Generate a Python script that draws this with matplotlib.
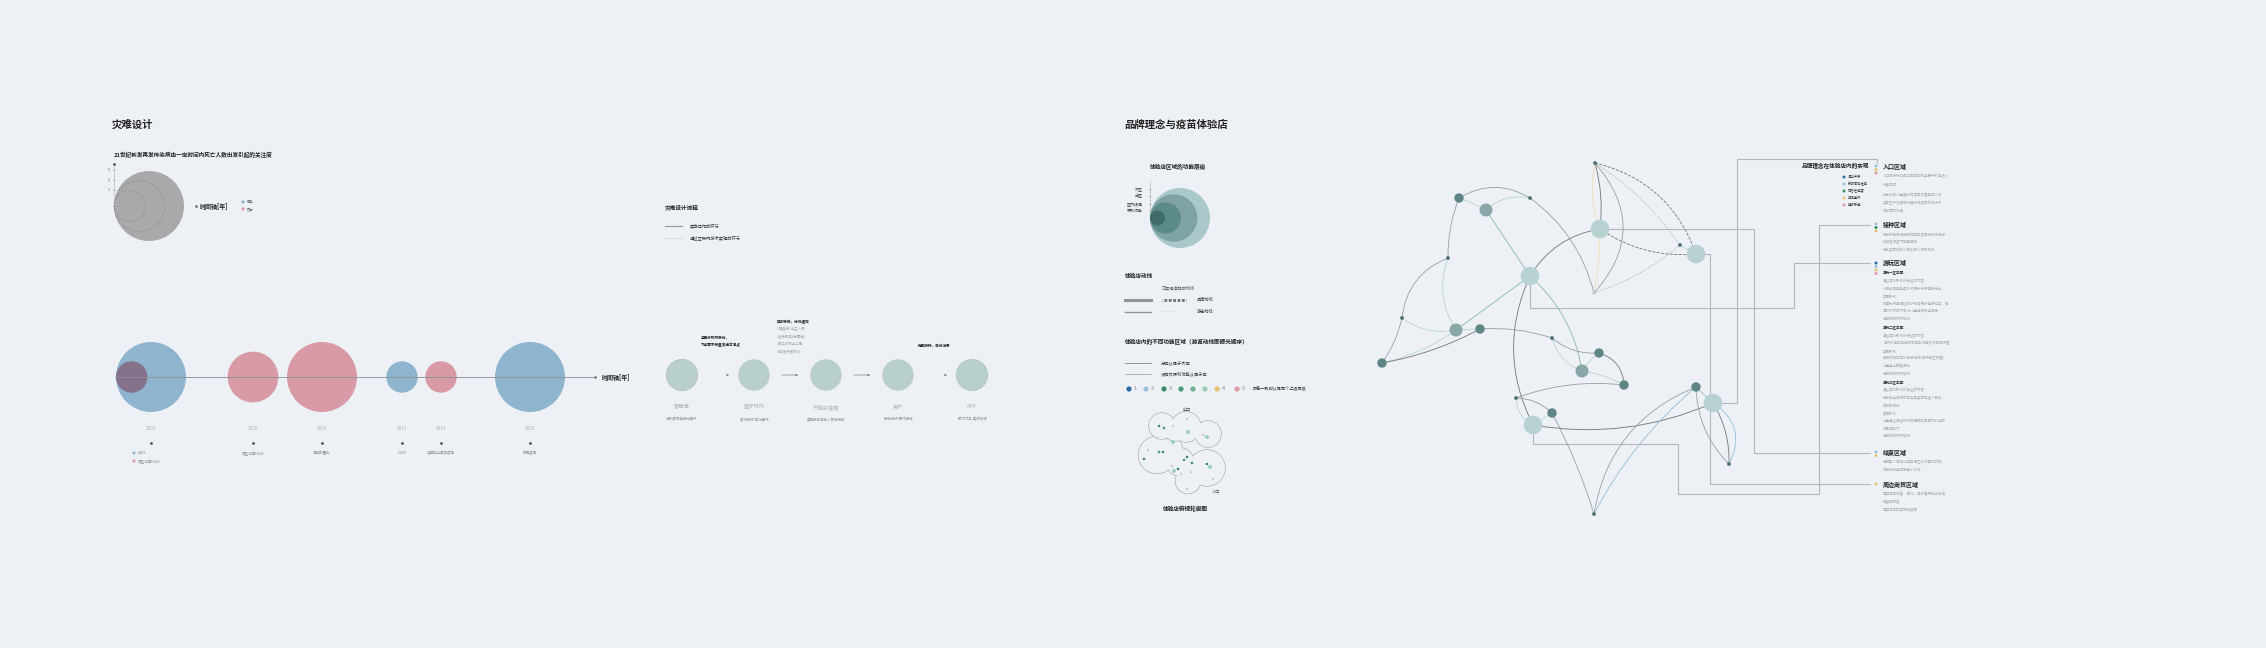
import matplotlib
matplotlib.use("Agg")
import matplotlib.pyplot as plt
from matplotlib.patches import Circle, PathPatch
from matplotlib.path import Path

plt.rcParams['font.family'] = ['Noto Sans CJK SC', 'DejaVu Sans']

BG = '#edf1f6'
BLUE = '#8fb5ce'
PINK = '#d89aa4'
DARK = '#3a3a3a'
GREY_T = '#a7abb0'

# ---- data: left timeline ----
years = ['2003', '2009', '2010', '2013', '2014', '2020']
events = ['', '甲型流感H1N1', '海地的霍乱', 'H7N9', '埃博拉出血热疫情', '新冠疫情']
levels = [3, 2, 3, 1, 1, 3]          # attention level 1..3
kinds = ['infect', 'death', 'death', 'infect', 'death', 'infect']
year_x = [151, 253, 322, 402, 441, 530]
h5n1_level = 1

# ---- data: flow ----
flow_names = ['智能库', '医疗机构', '户籍投递箱', '用户', 'APP']
flow_subs = ['大数据筛选接种用户', '实时接收 应对事件', '实现接种同城人员家接触', '接种接收 预约接种', '预约功能 实时反馈']
flow_links = ['dot', 'solid', 'solid', 'dot']
flow_online = [True, False, False, False, True]

# ---- data: function levels ----
func_levels = ['大区', '分区', '区内设施', '便利功能']
func_colors = ['#aac8ca', '#7fa3a4', '#5c8a89', '#3f6b6c']

# ---- data: network ----
nodes = {
    'A': (1595, 163, 'S'), 'B': (1459, 198, 'M'), 'C': (1486, 210, 'G'),
    'D': (1530, 198, 'S'), 'E': (1600, 229, 'L'), 'F': (1448, 258, 'S'),
    'G': (1680, 245, 'S'), 'H': (1696, 254, 'L'), 'I': (1530, 276, 'L'),
    'J': (1594, 293, 'T'), 'K': (1402, 318, 'S'), 'L': (1456, 330, 'G'),
    'M': (1480, 329, 'M'), 'N': (1552, 338, 'S'), 'O': (1599, 353, 'M'),
    'P': (1382, 363, 'M'), 'Q': (1582, 371, 'G'), 'R': (1624, 385, 'M'),
    'S': (1696, 387, 'M'), 'T': (1713, 403, 'L'), 'U': (1516, 398, 'S'),
    'V': (1552, 413, 'M'), 'W': (1533, 425, 'L'), 'X': (1729, 464, 'S'),
    'Y': (1594, 514, 'S'),
}
gr, dg, lg, gn, lb, yl = '#979ea1', '#6f7577', '#b5d6cc', '#86b8aa', '#93bcd8', '#efdfb4'
edges = [
    ('B', 'D', 0.3, gr, '-'), ('B', 'C', 0.05, lg, '-'), ('C', 'D', 0.25, lg, '-'),
    ('B', 'F', -0.1, gr, '-'), ('D', 'J', 0.18, gr, '-'), ('C', 'I', 0.0, gn, '-'),
    ('F', 'K', -0.3, gr, '-'), ('F', 'L', -0.25, lg, '-'), ('K', 'P', 0.1, gr, '-'),
    ('K', 'L', -0.22, lg, '-'), ('L', 'P', 0.1, lg, '-'), ('M', 'P', 0.08, dg, '-'),
    ('L', 'I', 0.0, gn, '-'), ('L', 'M', 0.0, lg, '-'), ('I', 'E', 0.23, dg, '-'),
    ('I', 'W', -0.24, dg, '-'), ('I', 'Q', 0.18, gn, '-'), ('M', 'N', 0.1, gr, '-'),
    ('N', 'O', -0.2, gr, '-'), ('N', 'Q', -0.25, lg, '-'), ('Q', 'O', 0.1, lg, '-'),
    ('Q', 'R', 0.1, lg, '-'), ('O', 'R', 0.35, dg, '-'), ('A', 'E', 0.1, dg, '-'),
    ('A', 'E', -0.15, yl, '-'), ('E', 'J', 0.05, yl, '-'), ('A', 'J', 0.44, gr, '-'),
    ('A', 'H', 0.27, dg, '--'), ('A', 'G', 0.1, gr, ':'), ('E', 'H', -0.18, dg, '--'),
    ('J', 'G', -0.1, gr, ':'), ('G', 'H', 0.0, lg, '-'), ('U', 'R', 0.12, gr, '-'),
    ('U', 'V', 0.2, gr, '-'), ('U', 'W', -0.3, lg, '-'), ('V', 'W', 0.0, lg, '-'),
    ('V', 'Y', 0.05, gr, '-'), ('W', 'T', -0.15, dg, '-'), ('S', 'Y', -0.28, gr, '-'),
    ('S', 'Y', -0.1, lb, '-'), ('T', 'X', 0.15, dg, '-'), ('S', 'X', -0.2, gr, '-'),
    ('T', 'X', 0.45, lb, '-'), ('S', 'T', 0.0, lb, '-'),
]

# ---- data: zones ----
brand_cols = ['#2e6b9e', '#9cc3d9', '#3f8a6b', '#e8c170', '#df9aa6']
brand_names = ['清华平乐', '新颖体验性能', '可信任程度', '品牌宣传', '趣味乐趣']
zone_titles = ['入口区域', '接种区域', '游玩区域', '结束区域', '周边商贸区域']
zone_y = [166, 224, 263, 452, 484]
zone_tags = [[1, 3, 4], [1, 2, 3], [0, 1, 3, 4], [1, 3], [3]]
zone_text = [
    [('入口的接待台提供简单指引手册并引导进入', 0), ('科普区域', 0), ('', 0),
     ('为家长与儿童展示的疫苗发展起源以及', 0), ('疫苗生产发展现状展示和疫苗新技术产', 0), ('品政策的转换', 0)],
    [('接种并在现场完成相应的疫苗接种并在接', 0), ('种时进行留下观察体验', 0), ('接种疫苗后的小朋友可以领取贴纸', 0)],
    [('游玩一区主题：', 1), ('通过游戏形式所表达的内容：', 0), ('小朋友自身免疫系统保护来源健康安全', 0),
     ('实现形式：', 0), ('拟题为病毒把控防护铁骑保护健康城中，在', 0), ('游戏环节中不会对儿童造成安全隐患', 0),
     ('完成相关领取贴纸', 0), ('游玩二区主题：', 1), ('通过游戏形式所表达的内容：', 0),
     ('自然环境中存在的可感染病毒及病原体病菌', 0), ('实现形式：', 0), ('荧光材质贴游戏承接地(形成病毒生态圈)', 0),
     ('儿童身上配备把枪', 0), ('完成相关领取贴纸', 0), ('游玩三区主题：', 1), ('通过游戏形式所表达的内容：', 0),
     ('接种安全健康的可食用疫苗促进小朋友', 0), ('的快乐成长', 0), ('实现形式：', 0),
     ('儿童通过把食物材质把预制菜果材料组的', 0), ('病毒体放下', 0), ('完成相关领取贴纸', 0)],
    [('完成整个体验流程可把之前收集到的贴', 0), ('纸贴纸兑换成徽章小礼物', 0)],
    [('周边商店销售、便利、亲子餐厅供家长选', 0), ('择进店购买', 0), ('周边店可购买相关疫苗', 0)],
]

# ---- data: floor plan ----
area_cols = ['#2e6b9e', '#9cc3d9', '#3f8a6b', '#4f9a76', '#6fb08f', '#9fcfb8', '#e8c170', '#e59aa5']
area_labels = ['1', '2', '3', '', '', '', '4', '5']
plan_upper = [(1162, 426, 13), (1186, 427, 15), (1208, 434, 13), (1175, 431, 10)]
plan_lower = [(1157, 455, 18.5), (1180, 462, 14), (1207, 468, 18), (1188, 481, 12.5), (1172, 448, 10)]
plan_pts = [(1159, 426, 2), (1164, 428, 3), (1173, 426, 9), (1187, 419, 9), (1188, 432, 5),
            (1203, 435, 9), (1207, 437, 5), (1173, 442, 5), (1157, 438, 9), (1148, 450, 9),
            (1159, 452, 3), (1163, 452, 2), (1144, 459, 2), (1187, 457, 2), (1184, 460, 3),
            (1192, 463, 2), (1207, 464, 2), (1210, 467, 5), (1172, 466, 9), (1174, 471, 5),
            (1178, 469, 2), (1181, 474, 9), (1191, 472, 9), (1213, 479, 9), (1187, 489, 9)]


fig = plt.figure(figsize=(22.66, 6.48), dpi=100, facecolor=BG)
ax = fig.add_axes([0, 0, 1, 1])
ax.set_xlim(0, 2266)
ax.set_ylim(648, 0)
ax.axis('off')
ax.set_facecolor(BG)


def txt(x, y, s, size=3, color=DARK, weight='normal', ha='left', va='center', **kw):
    ax.text(x, y, s, fontsize=size, color=color, fontweight=weight, ha=ha, va=va, **kw)


def circ(x, y, r, fc, ec='none', lw=0, ls='-', z=2):
    if lw == 0:
        ls = '-'
    ax.add_patch(Circle((x, y), r, fc=fc, ec=ec, lw=lw, ls=ls, zorder=z))


def rad(v):
    return 15.7 + (v - 1) * 9.65


# ================= left: 灾难设计 =================
txt(112, 125, '灾难设计', 7.5, '#222', 'bold')
txt(114, 155, '21世纪新发再发传染病由一定时间内死亡人数出发引起的关注度', 4.1, '#222', 'bold')

# level legend
ax.plot([114, 114], [164, 196], color='#bbb', lw=0.5)
ax.plot(114, 164, 'o', ms=1, color='#555')
for v, yy in zip([1, 2, 3], [190, 180, 170]):
    txt(110, yy, str(v), 2.6, '#555', ha='right')
    ax.plot([113, 115], [yy, yy], color='#999', lw=0.4)
circ(114 + rad(3), 206, rad(3), '#a9a9ab', z=2)
for v in [2, 1]:
    circ(114 + rad(v), 206, rad(v), 'none', ec='#8c8c8e', lw=0.5, ls=(0, (3, 2)), z=3)
ax.plot(196, 206, 'o', ms=1, color='#777')
txt(200, 206, '时间轴[年]', 4.3, '#222', 'bold')
circ(243, 202, 1.6, BLUE)
txt(247, 202, '感染', 2.4, '#666')
circ(243, 209, 1.6, PINK)
txt(247, 209, '死亡', 2.4, '#666')

# timeline
ax.plot([115, 595], [377, 377], color='#8a8f96', lw=0.6, zorder=4)
ax.plot(595, 377, 'o', ms=0.8, color='#555')
txt(602, 377, '时间轴[年]', 4.3, '#222', 'bold')
for x, yr, ev, lv, k in zip(year_x, years, events, levels, kinds):
    circ(x, 377, rad(lv), BLUE if k == 'infect' else PINK, z=2)
    txt(x, 429, yr, 3.4, '#b3b7bc', ha='center')
    ax.plot(x, 443, 'o', ms=0.9, color='#444')
    if ev:
        txt(x, 453, ev, 2.5, '#8a8e93', ha='center')
circ(year_x[0] - rad(3) + rad(h5n1_level), 377, rad(h5n1_level), '#86718a', z=3)
circ(134, 453, 1.5, BLUE)
txt(138, 453, 'SARS', 2.5, '#8a8e93')
circ(134, 461, 1.5, PINK)
txt(138, 461, '甲型流感H5N1', 2.5, '#8a8e93')

# ================= flow =================
txt(665, 207, '灾难设计流程', 4.1, '#222', 'bold')
ax.plot([665, 682], [226, 226], color='#9a9ea3', lw=0.9)
txt(690, 226, '实体操作的环节', 3.1, '#333')
ax.plot([665, 682], [238, 238], color='#b5b9bd', lw=0.6, ls=(0, (1, 1.2)))
txt(690, 238, '通过互联网技术实现的环节', 3.1, '#333')

flow_x = [682, 754, 826, 898, 972]
for x, nm, sb, on in zip(flow_x, flow_names, flow_subs, flow_online):
    if on:
        circ(x, 375, 15.7, '#b9cfcd', ec='#8fa3a1', lw=0.5, ls=(0, (1, 1)))
    else:
        circ(x, 375, 15.7, '#b9cfcd')
    txt(x, 407, nm, 3.8, '#b0b4b8', ha='center')
    txt(x, 419, sb, 2.5, '#8e9297', ha='center')
for i, lk in enumerate(flow_links):
    x0, x1 = flow_x[i] + 25, flow_x[i + 1] - 25
    if lk == 'solid':
        ax.annotate('', xy=(x1, 375), xytext=(x0, 375),
                    arrowprops=dict(arrowstyle='-|>', color='#7d8287', lw=0.5, mutation_scale=3))
    else:
        ax.annotate('', xy=(x1, 375), xytext=(x1 - 2, 375),
                    arrowprops=dict(arrowstyle='-|>', color='#7d8287', lw=0.4, mutation_scale=3))
txt(701, 337, '与医疗机构联动，', 2.6, '#222', 'bold')
txt(701, 345, '下达需求接量发送合地点', 2.6, '#222', 'bold')
txt(777, 322, '四方联络，分批通知', 2.6, '#222', 'bold')
for j, s in enumerate(['1.居委会/业主人员', '2社会服务(志愿者)', '3第三方物业公司', '4.自营快递物流']):
    txt(777, 329.5 + 7.6 * j, s, 2.5, '#a3a7ab')
txt(918, 345, '完成接种，自动记录', 2.6, '#222', 'bold')

# ================= right: 品牌理念 =================
txt(1124, 125, '品牌理念与疫苗体验店', 7.5, '#222', 'bold')
txt(1178, 167, '体验店区域的功能层级', 4.1, '#222', 'bold', ha='center')
ax.plot([1150, 1150], [181, 212], color='#bbb', lw=0.5)
for j, nm in enumerate(func_levels):
    yy = 189 + 7.4 * j
    txt(1143, yy, nm, 2.9, '#333', ha='right')
    ax.plot([1149, 1151], [yy, yy], color='#999', lw=0.4)
func_r = [30, 23.7, 15.5, 7.5]
for r, c in zip(func_r, func_colors):
    circ(1150 + r, 218, r, c)

txt(1125, 276, '体验店动线', 4.1, '#222', 'bold')
txt(1162, 288, '可实现选择的动线', 3.0, '#555')
ax.plot([1125, 1151], [300, 300], color='#8e9398', lw=2.2)
txt(1162, 300, '[ ■ ■ ■ ■ ■ ]', 2.6, '#777')
txt(1197, 300, '品牌动线', 3.0, '#333')
ax.plot([1125, 1151], [312, 312], color='#8e9398', lw=1.0)
txt(1162, 312, '- - - - - -', 2.8, '#777')
txt(1197, 312, '游览动线', 3.0, '#333')

txt(1125, 342, '体验店内的不同功能区域（游览动线即曝光顺序）', 4.1, '#222', 'bold')
ax.plot([1125, 1151], [363, 363], color='#7f8489', lw=0.6)
txt(1161, 363, '分区从属于大区', 3.1, '#333')
ax.plot([1125, 1151], [374, 374], color='#7f8489', lw=0.4)
txt(1161, 374, '设施及便利功能从属于区', 3.1, '#333')
dot_x = [1129, 1146, 1164, 1181, 1193, 1205, 1217, 1237]
for x, c, lb_ in zip(dot_x, area_cols, area_labels):
    circ(x, 389, 2.6, c)
    if lb_:
        txt(x + 5, 389, lb_, 4.0, '#888')
txt(1253, 389, '颜色一致则从属同个上级层级', 3.0, '#333')

# floor plan outline (union of lobes)
for grp in [plan_lower, plan_upper]:
    for x, y, r in grp:
        circ(x, y, r, 'none', ec='#a5a9ad', lw=0.9, z=3)
    for x, y, r in grp:
        circ(x, y, r, BG, z=3)
for x, y, ci in plan_pts:
    circ(x, y, 1.2 if ci == 9 else (2.0 if ci == 5 else 1.3),
         '#c9cdd1' if ci == 9 else area_cols[ci], z=4)
txt(1187, 410, '出口', 3.0, '#444', ha='center')
txt(1216, 492, '入口', 3.0, '#444', ha='center')
txt(1185, 509, '体验店俯视轮廓图', 4.1, '#222', 'bold', ha='center')

# ---- network ----
for a, b, bend, c, ls in edges:
    x0, y0, _ = nodes[a]
    x1, y1, _ = nodes[b]
    dx, dy = x1 - x0, y1 - y0
    cx, cy = (x0 + x1) / 2 + bend * dy, (y0 + y1) / 2 - bend * dx
    p = Path([(x0, y0), (cx, cy), (x1, y1)], [Path.MOVETO, Path.CURVE3, Path.CURVE3])
    ax.add_patch(PathPatch(p, fc='none', ec=c, lw=0.6, ls=ls, zorder=3))

# connectors to zone list
routes = {
    'T': [(1737, 403), (1737, 159), (1877, 159), (1877, 163)],
    'W': [(1533, 444), (1678, 444), (1678, 494), (1819, 494), (1819, 225), (1870, 225)],
    'I': [(1530, 308), (1794, 308), (1794, 263), (1870, 263)],
    'E': [(1754, 229), (1754, 453), (1870, 453)],
    'H': [(1710, 254), (1710, 484), (1870, 484)],
}
for k, pts in routes.items():
    x0, y0, _ = nodes[k]
    xs = [x0] + [p[0] for p in pts]
    ys = [y0] + [p[1] for p in pts]
    ax.plot(xs, ys, color='#b3b7bb', lw=0.8, zorder=2)

node_style = {'L': (9.3, '#b8d1d1'), 'M': (4.7, '#5f8586'), 'G': (6.5, '#89a6a8'),
              'S': (1.9, '#4d7172'), 'T': (1.9, '#bcd3d2')}
for k, (x, y, kd) in nodes.items():
    r, c = node_style[kd]
    circ(x, y, r, c, z=5)

# brand legend
txt(1869, 166, '品牌理念在体验店内的实现', 4.1, '#222', 'bold', ha='right')
for j, (c, nm) in enumerate(zip(brand_cols, brand_names)):
    yy = 177 + 7 * j
    circ(1844, yy, 1.5, c)
    txt(1848, yy, nm, 2.4, '#333')

# zone list
for zt, zy, tags, body in zip(zone_titles, zone_y, zone_tags, zone_text):
    for j, t in enumerate(tags):
        circ(1876, zy + 3.5 * j, 1.5, brand_cols[t], z=5)
    txt(1883, zy, zt, 4.3, '#222', 'bold')
    yy = zy + 10.5
    for s, bold in body:
        if s:
            txt(1883, yy, s, 2.5, '#333' if bold else GREY_T, 'bold' if bold else 'normal')
        yy += 7.6 if s else 3.5
        if s == '完成相关领取贴纸':
            yy += 1.5

fig.savefig('out.png', dpi=100, facecolor=BG)
